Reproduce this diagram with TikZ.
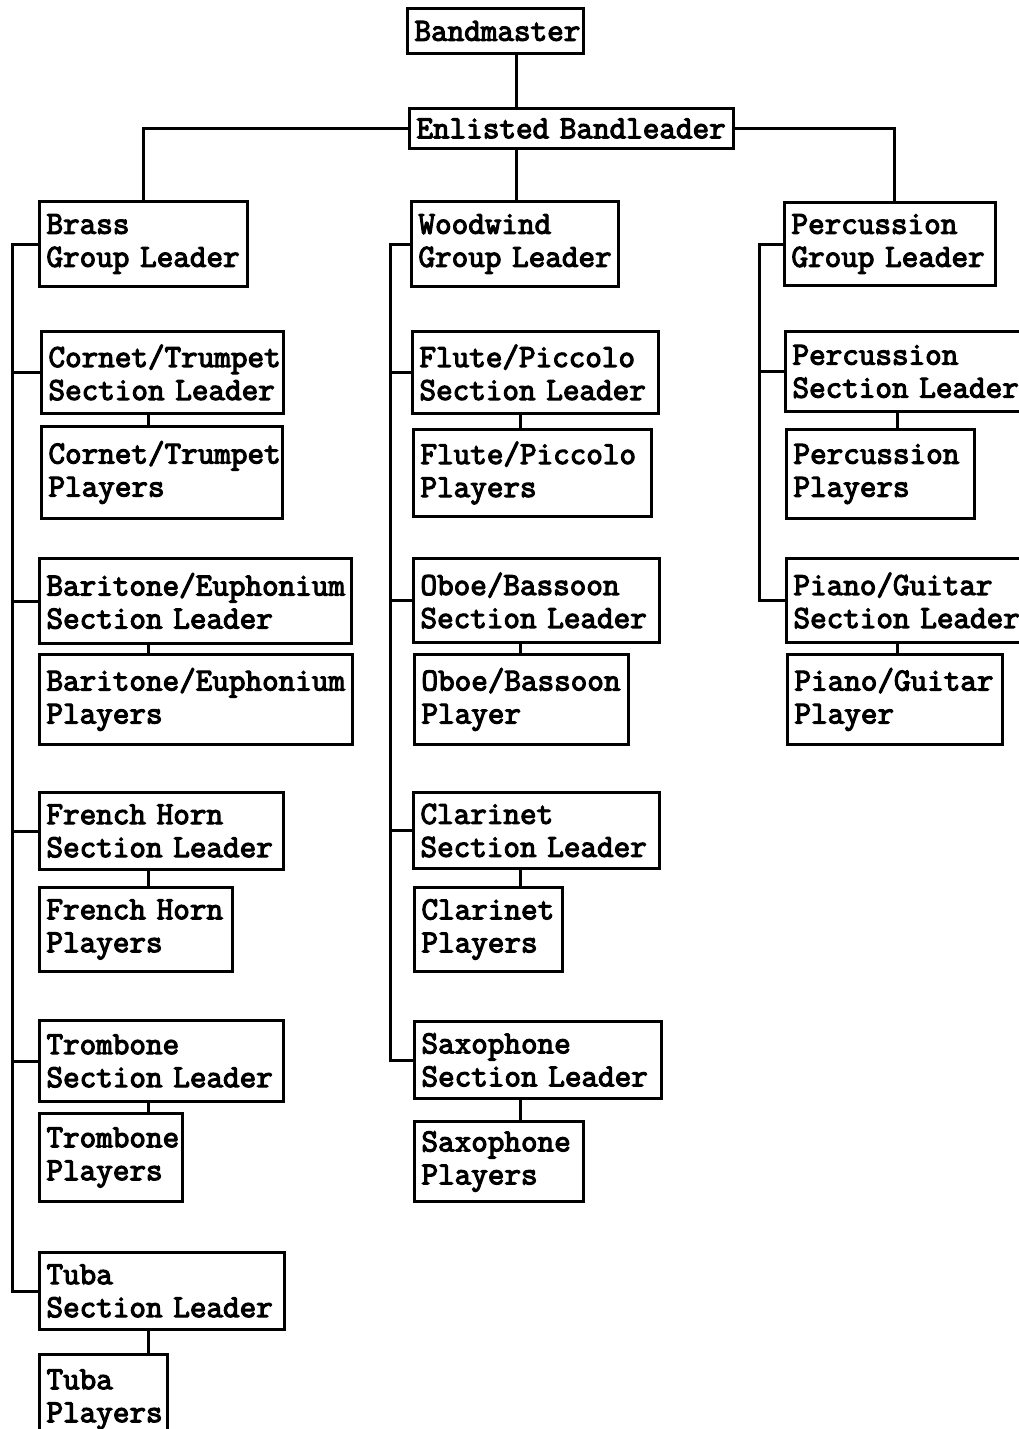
\documentclass[tikz,border=0pt]{standalone}
\usepackage{fontspec}
\newfontfamily\chartfont[FakeBold=3.6]{Latin Modern Mono}
\tikzset{
  post/.style={rectangle, draw, line width=1.5pt, anchor=north west, align=left,
               inner xsep=3.5pt, inner ysep=0pt,
               font=\chartfont\fontsize{16.1}{16.5}\selectfont},
  link/.style={line width=1.5pt},
}
\begin{document}
\begin{tikzpicture}[x=0.5pt, y=-0.5pt]
  \useasboundingbox (0,0) rectangle (1018,1429);
  % head of the band
  \node[post, text width=81pt, minimum height=22.5pt] (bm) at (406,7) {Bandmaster};
  \node[post, text width=155pt, minimum height=20pt] (ebl) at (408,107) {Enlisted~Bandleader};
  % group leaders
  \node[post, text width=97pt, minimum height=42.5pt] (brass) at (38,200) {Brass\\Group~Leader};
  \node[post, text width=96.5pt, minimum height=42.5pt] (ww) at (410,200) {Woodwind\\Group~Leader};
  \node[post, text width=98.5pt, minimum height=41.5pt] (perc) at (783,201) {Percussion\\Group~Leader};
  % brass sections
  \node[post, text width=114pt, minimum height=41pt] (ctSL) at (40,330) {Cornet/Trumpet\\Section~Leader};
  \node[post, text width=113.5pt, minimum height=46pt] (ctP) at (40,425) {Cornet/Trumpet\\Players};
  \node[post, text width=149pt, minimum height=42.5pt] (beSL) at (38,557) {Baritone/Euphonium\\Section~Leader};
  \node[post, text width=149.5pt, minimum height=45pt] (beP) at (38,653) {Baritone/Euphonium\\Players};
  \node[post, text width=115pt, minimum height=38.5pt] (fhSL) at (38,791) {French~Horn\\Section~Leader};
  \node[post, text width=89.5pt, minimum height=42pt] (fhP) at (38,886) {French~Horn\\Players};
  \node[post, text width=115pt, minimum height=40.5pt] (tbSL) at (38,1019) {Trombone\\Section~Leader};
  \node[post, text width=64.5pt, minimum height=44pt] (tbP) at (38,1112) {Trombone\\Players};
  \node[post, text width=115.5pt, minimum height=38.5pt] (tuSL) at (38,1251) {Tuba\\Section~Leader};
  \node[post, text width=57pt, minimum height=45pt] (tuP) at (38,1353) {Tuba\\Players};
  % woodwind sections
  \node[post, text width=116pt, minimum height=41pt] (fpSL) at (411,330) {Flute/Piccolo\\Section~Leader};
  \node[post, text width=112pt, minimum height=43.5pt] (fpP) at (412,428) {Flute/Piccolo\\Players};
  \node[post, text width=116pt, minimum height=42pt] (obSL) at (412,557) {Oboe/Bassoon\\Section~Leader};
  \node[post, text width=100pt, minimum height=45pt] (obP) at (413,653) {Oboe/Bassoon\\Player};
  \node[post, text width=116pt, minimum height=38pt] (clSL) at (412,791) {Clarinet\\Section~Leader};
  \node[post, text width=67pt, minimum height=42pt] (clP) at (413,886) {Clarinet\\Players};
  \node[post, text width=116.5pt, minimum height=38.5pt] (sxSL) at (413,1020) {Saxophone\\Section~Leader};
  \node[post, text width=77.5pt, minimum height=40pt] (sxP) at (413,1120) {Saxophone\\Players};
  % percussion sections
  \node[post, text width=118pt, minimum height=40pt] (psSL) at (784,330) {Percussion\\Section~Leader};
  \node[post, text width=87pt, minimum height=44.5pt] (psP) at (785,428) {Percussion\\Players};
  \node[post, text width=118pt, minimum height=42pt] (pgSL) at (785,557) {Piano/Guitar\\Section~Leader};
  \node[post, text width=100.5pt, minimum height=45pt] (pgP) at (786,653) {Piano/Guitar\\Player};
  % top links
  \coordinate (mid) at (516,0);
  \draw[link] (bm.south -| mid) -- (ebl.north -| mid);
  \draw[link] (ebl.south -| mid) -- (ww.north -| mid);
  \draw[link] (ebl.west) -| (brass.north);
  \draw[link] (ebl.east) -| ([xshift=2pt]perc.north);
  % trunks
  \coordinate (bt) at (12,0);
  \coordinate (wt) at (390,0);
  \coordinate (pt) at (759,0);
  \draw[link] (brass.west) -- (brass.west -| bt) -- (tuSL.west -| bt) -- (tuSL.west);
  \draw[link] (ww.west) -- (ww.west -| wt) -- (sxSL.west -| wt) -- (sxSL.west);
  \draw[link] (perc.west) -- (perc.west -| pt) -- (pgSL.west -| pt) -- (pgSL.west);
  \foreach \n in {ctSL,beSL,fhSL,tbSL}
    \draw[link] (\n.west -| bt) -- (\n.west);
  \foreach \n in {fpSL,obSL,clSL}
    \draw[link] (\n.west -| wt) -- (\n.west);
  \draw[link] (psSL.west -| pt) -- (psSL.west);
  % leader to players
  \coordinate (bc) at (148,0);
  \coordinate (wc) at (520,0);
  \coordinate (pc) at (897,0);
  \foreach \a/\b in {ctSL/ctP,beSL/beP,fhSL/fhP,tbSL/tbP,tuSL/tuP}
    \draw[link] (\a.south -| bc) -- (\b.north -| bc);
  \foreach \a/\b in {fpSL/fpP,obSL/obP,clSL/clP,sxSL/sxP}
    \draw[link] (\a.south -| wc) -- (\b.north -| wc);
  \foreach \a/\b in {psSL/psP,pgSL/pgP}
    \draw[link] (\a.south -| pc) -- (\b.north -| pc);
\end{tikzpicture}
\end{document}
